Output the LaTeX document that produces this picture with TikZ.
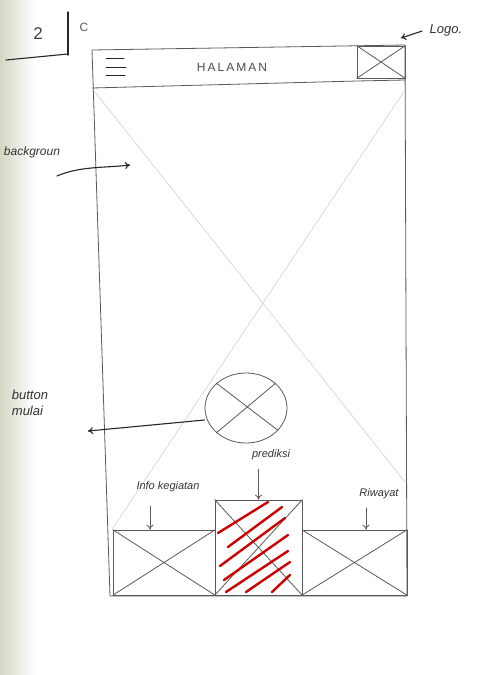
\documentclass[tikz,border=0pt]{standalone}
\usepackage{fontspec}
\setmainfont{Liberation Sans}
\usetikzlibrary{shapes.geometric,arrows.meta}
\definecolor{paper}{RGB}{214,214,196}
\begin{document}
\begin{tikzpicture}[x=1pt,y=-1pt,
  pencil/.style={draw=black!65, line width=0.8pt, line cap=round, line join=round},
  faint/.style={draw=black!18, line width=0.6pt},
  ink/.style={draw=black!85, line width=1.1pt, line cap=round},
  lbl/.style={font=\fontsize{11}{13}\selectfont\itshape, text=black!80, inner sep=1pt, align=left},
  hatch/.style={draw=red!80!black, line width=2.4pt, line cap=round},
  tip/.style={-{To[length=5pt,width=7pt]}}]
\useasboundingbox (0,0) rectangle (483,675);
\fill[white] (0,0) rectangle (483,675);
\shade[left color=paper, right color=white] (0,0) rectangle (35,675);
% page number corner
\node[font=\fontsize{17}{19}\selectfont, text=black!75] (pnum) at (38,34) {2};
\node[font=\fontsize{12}{14}\selectfont, text=black!65] (pc) at (84,27) {C};
\draw[ink] (68,12) -- (68,55);
\draw[ink] (6,60) -- (68,54);
% phone frame
\coordinate (ftl) at (92,50);
\coordinate (ftr) at (405,45);
\coordinate (fbr) at (407,596);
\coordinate (fbl) at (110,596);
\draw[pencil] (ftl) -- (fbl) -- (fbr) -- (ftr) -- cycle;
% header
\draw[pencil] (92,88) -- (357,81) -- (405,80);
\node[pencil, rectangle, minimum width=48, minimum height=32] (logo) at (381,62) {};
\draw[pencil] (logo.north west) -- (logo.south east);
\draw[pencil] (logo.south west) -- (logo.north east);
\draw[ink, line width=1pt] (106,58) -- (124,58) (106,67) -- (126,67) (106,75) -- (125,75);
\node[font=\fontsize{12}{14}\selectfont, text=black!70] (title) at (232,67) {H\,A\,L\,A\,M\,A\,N};
% background image placeholder (faint X)
\draw[faint] (95,92) -- (405,482);
\draw[faint] (405,90) -- (113,528);
% start button
\node[pencil, ellipse, minimum width=82, minimum height=70] (btn) at (246,408) {};
\draw[pencil] (btn.140) -- (btn.-35);
\draw[pencil] (btn.-140) -- (btn.40);
% bottom navigation
\node[pencil, rectangle, minimum width=102, minimum height=65] (pleft) at (164,562.5) {};
\draw[pencil] (pleft.north west) -- (pleft.south east);
\draw[pencil] (pleft.south west) -- (pleft.north east);
\node[pencil, rectangle, minimum width=105, minimum height=65] (pright) at (354.5,562.5) {};
\draw[pencil] (pright.north west) -- (pright.south east);
\draw[pencil] (pright.south west) -- (pright.north east);
\node[pencil, fill=white, rectangle, minimum width=87, minimum height=95] (pmid) at (258.5,547.5) {};
\draw[pencil] (pmid.north west) -- (pmid.south east);
\draw[pencil] (pmid.south west) -- (pmid.north east);
\begin{scope}
\clip (pmid.south west) rectangle (pmid.north east);
\draw[hatch] (218,533) -- (268,502);
\draw[hatch] (228,547) -- (282,507);
\draw[hatch] (220,566) -- (285,518);
\draw[hatch] (224,580) -- (288,535);
\draw[hatch] (226,592) -- (288,551);
\draw[hatch] (246,592) -- (290,562);
\draw[hatch] (272,592) -- (290,575);
\end{scope}
% annotations
\node[lbl, font=\fontsize{12}{14}\selectfont\itshape] (lbglbl) at (32,152) {backgroun};
\coordinate (bgtail) at (57,176);
\coordinate (bgtip) at (130,165);
\draw[ink, tip] (bgtail) .. controls (80,166) and (105,168) .. (bgtip);
\node[lbl, font=\fontsize{13}{16}\selectfont\itshape] (lbtn) at (30,403) {button\\mulai};
\coordinate (btntip) at (88,431);
\draw[ink, tip] (btn.west) ++(0,12) -- (btntip);
\node[lbl, font=\fontsize{13}{15}\selectfont\itshape] (llogo) at (446,30) {Logo.};
\coordinate (logotail) at (422,31);
\coordinate (logotip) at (401,38);
\draw[ink, tip] (logotail) -- (logotip);
\node[lbl, font=\fontsize{11}{13}\selectfont\itshape] (linfo) at (168,487) {Info kegiatan};
\coordinate (infotop) at (150,506);
\draw[pencil, tip] (infotop) -- (pleft.north -| infotop);
\node[lbl, font=\fontsize{11}{13}\selectfont\itshape] (lpred) at (271,455) {prediksi};
\draw[pencil, tip] (lpred.south -| pmid.north) ++(0,8) -- (pmid.north);
\node[lbl, font=\fontsize{11}{13}\selectfont\itshape] (lriw) at (379,494) {Riwayat};
\coordinate (riwtop) at (366,508);
\draw[pencil, tip] (riwtop) -- (pright.north -| riwtop);
\end{tikzpicture}
\end{document}
